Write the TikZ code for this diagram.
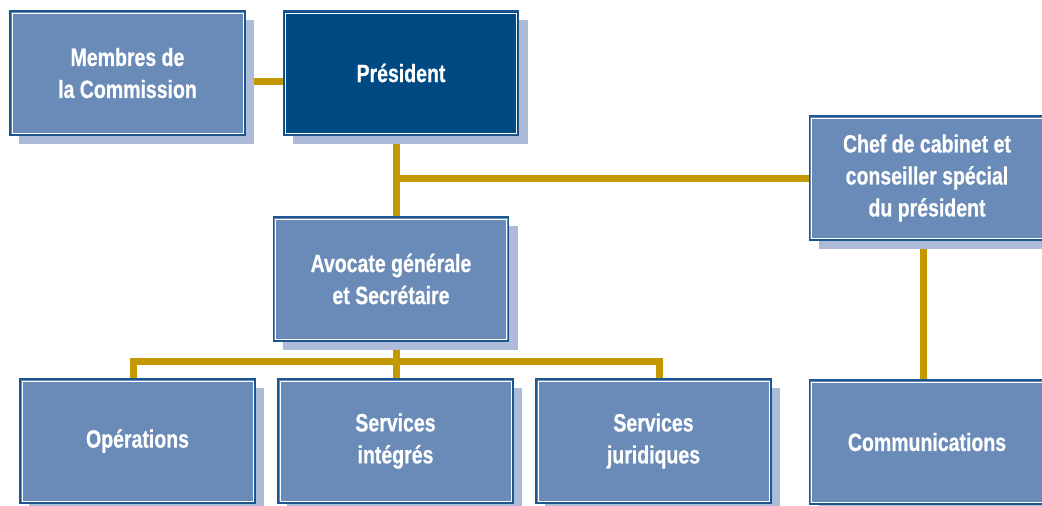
\documentclass[tikz,border=0pt]{standalone}
\usepackage{fontspec}
\setmainfont{Liberation Sans}[FakeStretch=0.78, FakeBold=0.6]
\usepackage{tikz}
\usetikzlibrary{shadows}
\usetikzlibrary{backgrounds}
\definecolor{boxfill}{HTML}{6A8BB7}
\definecolor{boxdark}{HTML}{004A84}
\definecolor{boxline}{HTML}{1B5690}
\definecolor{boxshade}{HTML}{ADBBD8}
\definecolor{linkgold}{HTML}{C39800}
\tikzset{unit/.style = {draw = boxline, line width = 1.6pt, fill = boxfill,
                        minimum width = 235, minimum height = 124, inner sep = 0,
                        text = white, align = center,
                        font = \fontsize{25}{32}\selectfont\bfseries,
                        drop shadow = {shadow xshift = 9pt, shadow yshift = -9pt,
                                       fill = boxshade, opacity = 1},
                        path picture = {\draw [white, line width = 0.8pt]
                          ([shift = {(2pt, -2pt)}]path picture bounding box.north west)
                          rectangle ([shift = {(-2pt, 2pt)}]path picture bounding box.south east);}}}
\tikzset{head/.style = {unit, fill = boxdark}}
\tikzset{link/.style = {draw = linkgold, line width = 7pt, line join = miter}}

\begin{document}
\begin{tikzpicture}[x = 1pt, y = -1pt]
  \path [use as bounding box] (0, 0) rectangle (1042, 506);

  \node [unit] (membres) at (127.5, 73) {Membres de\\la Commission};
  \node [head] (president) at (401, 73) {Président};
  \node [unit] (chef) at (927, 178) {Chef de cabinet et\\conseiller spécial\\du président};
  \node [unit] (avocate) at (391, 279) {Avocate générale\\et Secrétaire};
  \node [unit] (operations) at (137.5, 441) {Opérations};
  \node [unit] (integres) at (395.5, 441) {Services\\intégrés};
  \node [unit] (juridiques) at (653.5, 441) {Services\\juridiques};
  \node [unit] (communications) at (927, 442) {Communications};

  % links sit behind the boxes and their shadows
  \coordinate (tee) at (396, 178);
  \coordinate (busL) at (133, 361);
  \coordinate (bus) at (396, 361);
  \coordinate (busR) at (659, 361);
  \begin{scope}[on background layer]
    \fill [white] (0, 0) rectangle (1042, 506);
    \draw [link] ([yshift = -8pt]membres.east) -- ([yshift = -8pt]president.west);
    \draw [link] (president.south -| tee) -- (avocate.north -| tee);
    \draw [link] (tee) -- (chef.west |- tee);
    \draw [link] ([xshift = -4pt]chef.south) -- ([xshift = -4pt]communications.north);
    \draw [link] (operations.north -| busL) -- (busL) -- (busR) -- (juridiques.north -| busR);
    \draw [link] (avocate.south -| bus) -- (integres.north -| bus);
  \end{scope}
\end{tikzpicture}
\end{document}
